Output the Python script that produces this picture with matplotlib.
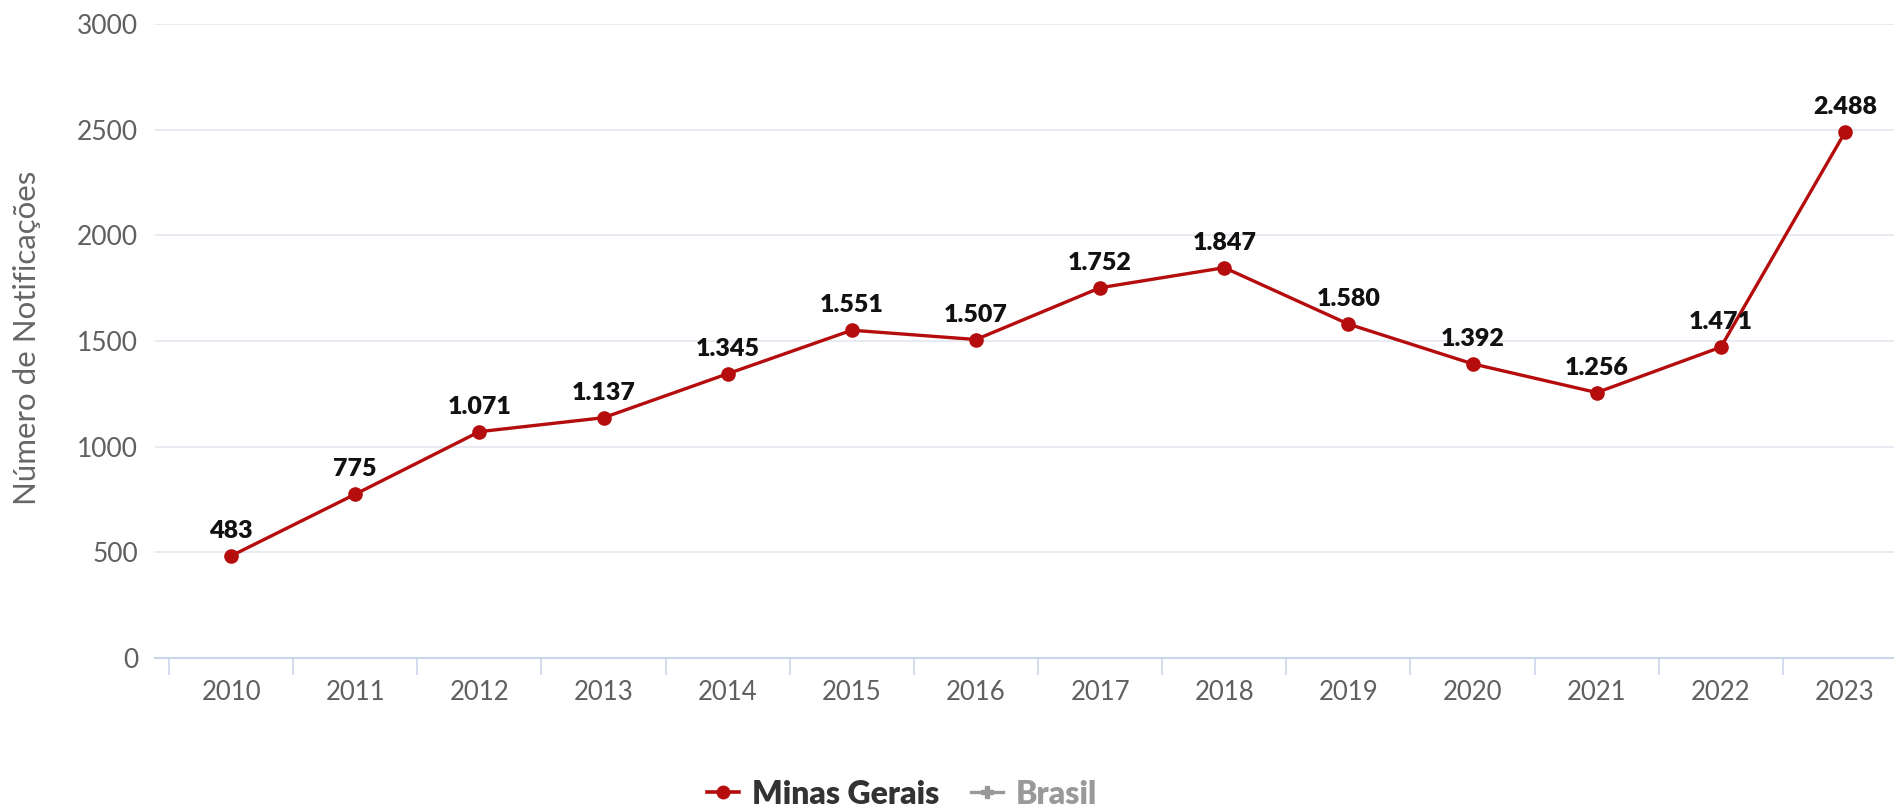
import matplotlib
matplotlib.use("Agg")
import matplotlib.pyplot as plt
from matplotlib.lines import Line2D

# dados
anos = ["2010", "2011", "2012", "2013", "2014", "2015", "2016",
        "2017", "2018", "2019", "2020", "2021", "2022", "2023"]
minas_gerais = [483, 775, 1071, 1137, 1345, 1551, 1507,
                1752, 1847, 1580, 1392, 1256, 1471, 2488]
y_ticks = [0, 500, 1000, 1500, 2000, 2500, 3000]

plt.rcParams['font.family'] = ['Lato', 'DejaVu Sans']

W, H = 1894, 806
fig = plt.figure(figsize=(W / 100, H / 100), dpi=100)

# area do grafico em pixels
left, right, top, bottom = 155, 1894, 24, 658
ax = fig.add_axes([left / W, (H - bottom) / H, (right - left) / W, (bottom - top) / H])

x = list(range(len(anos)))
cor = '#b50d0d'
ax.plot(x, minas_gerais, '-', color=cor, linewidth=2.4, marker='o', markersize=9.5,
        clip_on=False, zorder=3)

for xi, v in zip(x, minas_gerais):
    txt = f"{v:,}".replace(",", ".")
    ax.annotate(txt, (xi, v), xytext=(0, 10), textcoords='offset points',
                ha='center', va='bottom', fontsize=18, fontweight='heavy', color='#111111')

# eixos
step = 124.2
ax.set_xlim(-0.5 - (169 - left) / step, 13 + (right - 1845) / step)
ax.set_ylim(0, 3000)
ax.set_yticks(y_ticks)
ax.set_yticklabels([str(t) for t in y_ticks])
ax.set_xticks(x)
ax.set_xticklabels(anos)
ax.set_xticks([i - 0.5 for i in range(len(anos))], minor=True)

ax.grid(axis='y', color='#e3e7ef', linewidth=1.2)
ax.set_axisbelow(True)
for s in ['top', 'right', 'left']:
    ax.spines[s].set_visible(False)
ax.spines['bottom'].set_color('#ccd6eb')
ax.spines['bottom'].set_linewidth(1.5)

ax.tick_params(axis='y', length=0, pad=12, labelsize=19, labelcolor='#606060')
ax.tick_params(axis='x', which='major', length=0, pad=16, labelsize=18.5, labelcolor='#606060')
ax.tick_params(axis='x', which='minor', length=12, width=1.2, color='#ccd6eb')

fig.text(27 / W, 1 - 338 / H, 'Número de Notificações', rotation=90, ha='center',
         va='center', fontsize=22.5, color='#666666')

# legenda
h1 = Line2D([], [], color=cor, linewidth=2.6, marker='o', markersize=9)
h2 = Line2D([], [], color='#999999', linewidth=2.4, marker='P', markersize=8)
leg = fig.legend([h1, h2], ['Minas Gerais', 'Brasil'], loc='center',
                 bbox_to_anchor=(902 / W, 1 - 794 / H), ncol=2, frameon=False,
                 handlelength=1.0, handletextpad=0.4, columnspacing=1.0,
                 prop={'size': 23, 'weight': 'heavy'})
leg.get_texts()[0].set_color('#333333')
leg.get_texts()[1].set_color('#999999')

fig.savefig('out.png', dpi=100)
